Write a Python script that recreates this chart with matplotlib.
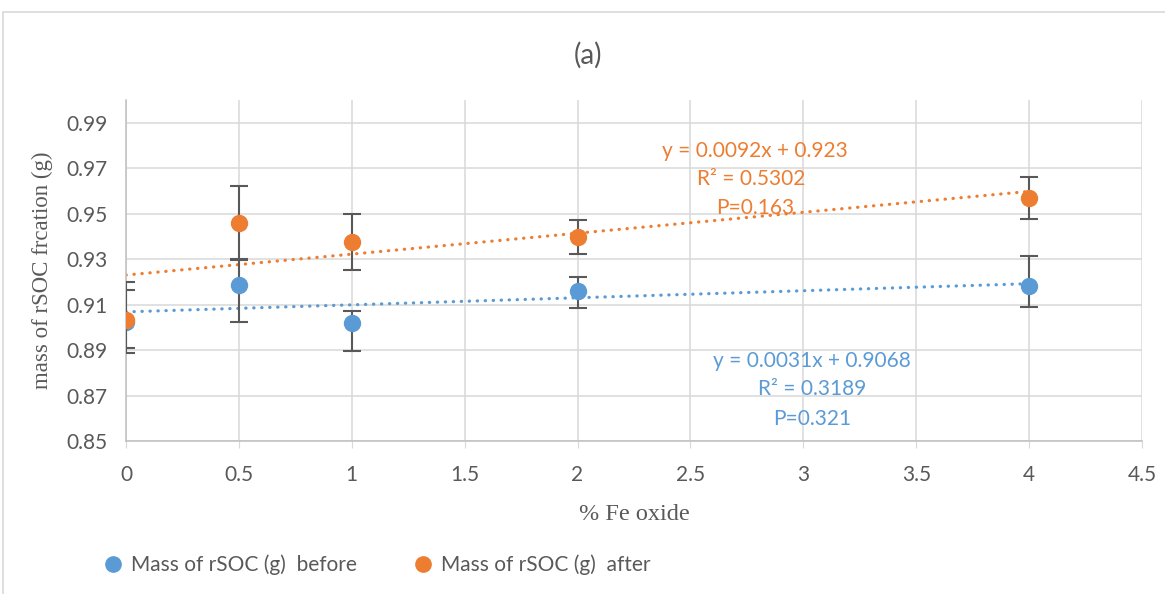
import numpy as np
import matplotlib
matplotlib.use("Agg")
import matplotlib.pyplot as plt
from matplotlib.patches import Rectangle
from matplotlib.lines import Line2D

# data
fe_oxide = [0, 0.5, 1, 2, 4]
before = [0.9022, 0.9187, 0.9018, 0.9162, 0.9183]
before_err_lo = [0.0134, 0.0163, 0.0120, 0.0075, 0.0094]
before_err_hi = [0.0143, 0.0113, 0.0052, 0.0059, 0.0132]
after = [0.9033, 0.9459, 0.9374, 0.9397, 0.9569]
after_err_lo = [0.0123, 0.0164, 0.0122, 0.0075, 0.0092]
after_err_hi = [0.0167, 0.0164, 0.0125, 0.0073, 0.0094]

# trendline coefficients as printed on the chart
before_fit = (0.0031, 0.9068)
after_fit = (0.0092, 0.923)

x_ticks = [0, 0.5, 1, 1.5, 2, 2.5, 3, 3.5, 4, 4.5]
y_ticks = [0.85, 0.87, 0.89, 0.91, 0.93, 0.95, 0.97, 0.99]

BLUE = "#5B9BD5"
ORANGE = "#ED7D31"
GRID = "#D9D9D9"
TXT = "#595959"
FS = 15

plt.rcParams['font.family'] = ['Lato', 'DejaVu Sans']

fig = plt.figure(figsize=(11.65, 5.94), dpi=100)
ax = fig.add_axes([126 / 1165, 1 - 441 / 594, (1142 - 126) / 1165, (441 - 100) / 594])

# outer chart frame
fig.patches.append(Rectangle((3 / 1165, -0.1), 1.2, 1 - 12 / 594 + 0.1,
                             transform=fig.transFigure, fill=False,
                             edgecolor=GRID, linewidth=1.2))

ax.set_xlim(0, 4.5)
ax.set_ylim(0.85, 1.0)
ax.set_xticks(x_ticks)
ax.set_xticklabels([f"{v:g}" for v in x_ticks])
ax.set_yticks(y_ticks)
ax.set_yticklabels([f"{v:.2f}" for v in y_ticks])
ax.grid(True, color=GRID, linewidth=1.1, zorder=0)
ax.set_axisbelow(True)

for s in ["top", "right"]:
    ax.spines[s].set_visible(False)
for s in ["left", "bottom"]:
    ax.spines[s].set_color("#BFBFBF")
    ax.spines[s].set_linewidth(1.1)

ax.tick_params(axis="x", length=5, color=GRID, labelsize=FS, labelcolor=TXT, pad=12)
ax.tick_params(axis="y", length=0, labelsize=FS, labelcolor=TXT, pad=13)

# trendlines
xt = np.linspace(0, 4, 100)
ax.plot(xt, before_fit[0] * xt + before_fit[1], color=BLUE, lw=2.3,
        linestyle=(0, (0.1, 2.4)), dash_capstyle="round", zorder=2)
ax.plot(xt, after_fit[0] * xt + after_fit[1], color=ORANGE, lw=2.3,
        linestyle=(0, (0.1, 2.4)), dash_capstyle="round", zorder=2)

ax.errorbar(fe_oxide, before, yerr=[before_err_lo, before_err_hi], fmt="o",
            color=BLUE, ecolor="#595959", elinewidth=1.5, capsize=6.5, capthick=1.5,
            markersize=11.5, zorder=3, label="Mass of rSOC (g)  before")
ax.errorbar(fe_oxide, after, yerr=[after_err_lo, after_err_hi], fmt="o",
            color=ORANGE, ecolor="#595959", elinewidth=1.5, capsize=6.5, capthick=1.5,
            markersize=11.5, zorder=4, label="Mass of rSOC (g)  after")

# equation labels
ax.text(2.786, 0.9776, "y = 0.0092x + 0.923", color=ORANGE, fontsize=FS, ha="center", va="center")
ax.text(2.77, 0.9653, "R² = 0.5302", color=ORANGE, fontsize=FS, ha="center", va="center")
ax.text(2.786, 0.9525, "P=0.163", color=ORANGE, fontsize=FS, ha="center", va="center")
ax.text(3.04, 0.8852, "y = 0.0031x + 0.9068", color=BLUE, fontsize=FS, ha="center", va="center")
ax.text(3.04, 0.8729, "R² = 0.3189", color=BLUE, fontsize=FS, ha="center", va="center")
ax.text(3.04, 0.8597, "P=0.321", color=BLUE, fontsize=FS, ha="center", va="center")

ax.set_xlabel("% Fe oxide", family="Liberation Serif", fontsize=17.5, color=TXT, labelpad=14)
ax.set_ylabel("mass of rSOC frcation (g)", family="Liberation Serif", fontsize=16.5, color=TXT, labelpad=10)

fig.text(588 / 1165, 1 - 55 / 594, "(a)", fontsize=20, color=TXT, ha="center", va="center")

labels = ["Mass of rSOC (g)  before", "Mass of rSOC (g)  after"]
h = [Line2D([], [], marker="o", linestyle="", color=BLUE, markersize=11),
     Line2D([], [], marker="o", linestyle="", color=ORANGE, markersize=11)]
fig.legend(h, labels, loc="center left", bbox_to_anchor=(92 / 1165, 1 - 565 / 594),
           ncol=2, frameon=False, fontsize=FS, labelcolor=TXT, borderaxespad=0,
           handletextpad=0.25, columnspacing=2.6, handlelength=1.2)

fig.savefig("out.png", dpi=100)
